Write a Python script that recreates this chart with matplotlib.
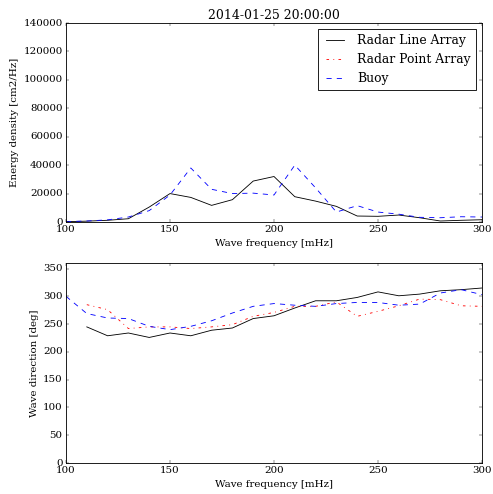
import numpy as np
import matplotlib
matplotlib.use("Agg")
import matplotlib.pyplot as plt

plt.style.use('classic')
plt.rcParams['font.family'] = ['DejaVu Serif']

freq = [100, 110, 120, 130, 140, 150, 160, 170, 180, 190, 200,
        210, 220, 230, 240, 250, 260, 270, 280, 290, 300]

# Energy density [cm2/Hz]
energy_line = [200, 600, 1200, 2300, 10500, 20000, 17300, 11700, 15700, 28800, 32000,
               17800, 14700, 11000, 4200, 4000, 4900, 3000, 700, 1200, 1600]
energy_point = [np.nan] * 21
energy_buoy = [300, 700, 1500, 3500, 8000, 19000, 38000, 23000, 20000, 20300, 19000,
               40000, 24000, 7000, 11500, 7000, 5500, 3300, 3000, 3700, 3500]

# Wave direction [deg]
dir_line = [np.nan, 245, 229, 234, 226, 234, 229, 239, 243, 260, 265,
            279, 292, 292, 298, 308, 301, 304, 310, 312, 315]
dir_point = [np.nan, 285, 276, 242, 245, 245, 242, 245, 249, 264, 271,
             282, 282, 290, 264, 273, 283, 295, 294, 283, 282]
dir_buoy = [300, 269, 261, 260, 246, 240, 246, 256, 270, 282, 287,
            284, 282, 287, 289, 289, 284, 286, 306, 312, 303]

DPI = 61.625
W, H = 493.0, 494.0
fig = plt.figure(figsize=(W / DPI, H / DPI), dpi=DPI, facecolor='white')
ax1 = fig.add_axes([66 / W, 1 - 222 / H, 416 / W, 199 / H])
ax2 = fig.add_axes([66 / W, 1 - 463 / H, 416 / W, 200 / H])

ax1.plot(freq, energy_line, 'k-', label='Radar Line Array')
ax1.plot(freq, energy_point, 'r-.', label='Radar Point Array')
ax1.plot(freq, energy_buoy, 'b--', label='Buoy')
ax1.set_xlim(100, 300)
ax1.set_ylim(0, 140000)
ax1.set_xlabel('Wave frequency [mHz]')
ax1.set_ylabel('Energy density [cm2/Hz]')
ax1.set_title('2014-01-25 20:00:00')
ax1.legend(loc='upper right')

ax2.plot(freq, dir_line, 'k-')
ax2.plot(freq, dir_point, 'r-.')
ax2.plot(freq, dir_buoy, 'b--')
ax2.set_xlim(100, 300)
ax2.set_ylim(0, 360)
ax2.set_yticks(np.arange(0, 351, 50))
ax2.set_xlabel('Wave frequency [mHz]')
ax2.set_ylabel('Wave direction [deg]')

fig.savefig('out.png', dpi=DPI, facecolor='white')
